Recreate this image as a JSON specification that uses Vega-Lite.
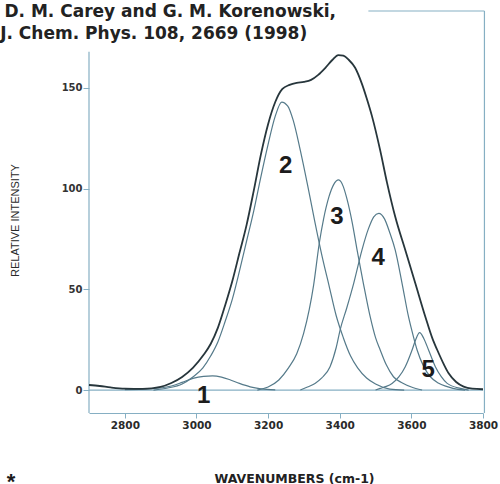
{
  "$schema": "https://vega.github.io/schema/vega-lite/v6.json",
  "width": 394,
  "height": 401,
  "autosize": {"type": "none"},
  "padding": {"left": 89, "top": 12, "right": 17, "bottom": 71},
  "background": "white",
  "config": {"view": {"stroke": null}},
  "datasets": {
    "frame": [
      {"wn": 2700, "wn2": 2700, "i": -11.4, "i2": 168},
      {"wn": 3804, "wn2": 3804, "i": -11.4, "i2": 188.2},
      {"wn": 3480, "wn2": 3804, "i": 188.2, "i2": 188.2},
      {"wn": 2700, "wn2": 3800, "i": 0, "i2": 0}
    ],
    "envelope": [
      {"wn": 2700, "i": 2.5}, {"wn": 2730, "i": 2}, {"wn": 2760, "i": 1.3}, {"wn": 2800, "i": 0.7},
      {"wn": 2850, "i": 0.6}, {"wn": 2900, "i": 1.6}, {"wn": 2930, "i": 3.5}, {"wn": 2960, "i": 6.5},
      {"wn": 2990, "i": 11}, {"wn": 3020, "i": 17.5}, {"wn": 3040, "i": 23}, {"wn": 3060, "i": 31},
      {"wn": 3080, "i": 42}, {"wn": 3100, "i": 54}, {"wn": 3120, "i": 68}, {"wn": 3140, "i": 82},
      {"wn": 3160, "i": 99}, {"wn": 3180, "i": 117}, {"wn": 3200, "i": 132}, {"wn": 3220, "i": 143},
      {"wn": 3240, "i": 149.5}, {"wn": 3260, "i": 151.5}, {"wn": 3280, "i": 152.5}, {"wn": 3300, "i": 153},
      {"wn": 3320, "i": 154}, {"wn": 3340, "i": 156.5}, {"wn": 3360, "i": 160}, {"wn": 3380, "i": 164},
      {"wn": 3396, "i": 166.3}, {"wn": 3410, "i": 166}, {"wn": 3425, "i": 164}, {"wn": 3443, "i": 160},
      {"wn": 3462, "i": 152}, {"wn": 3475, "i": 145}, {"wn": 3490, "i": 136}, {"wn": 3513, "i": 119},
      {"wn": 3532, "i": 103}, {"wn": 3555, "i": 86}, {"wn": 3583, "i": 69.5}, {"wn": 3611, "i": 53},
      {"wn": 3639, "i": 36.4}, {"wn": 3660, "i": 25}, {"wn": 3672, "i": 20}, {"wn": 3690, "i": 13},
      {"wn": 3704, "i": 8.3}, {"wn": 3725, "i": 4}, {"wn": 3746, "i": 1.7}, {"wn": 3770, "i": 0.7},
      {"wn": 3800, "i": 0.4}
    ],
    "components": [
      {"c": "1", "wn": 2800, "i": 0.2}, {"c": "1", "wn": 2850, "i": 0.4}, {"c": "1", "wn": 2900, "i": 1},
      {"c": "1", "wn": 2930, "i": 2}, {"c": "1", "wn": 2960, "i": 3.8}, {"c": "1", "wn": 2990, "i": 5.8},
      {"c": "1", "wn": 3020, "i": 6.8}, {"c": "1", "wn": 3045, "i": 7}, {"c": "1", "wn": 3070, "i": 6.4},
      {"c": "1", "wn": 3095, "i": 5}, {"c": "1", "wn": 3120, "i": 3.3}, {"c": "1", "wn": 3150, "i": 1.6},
      {"c": "1", "wn": 3180, "i": 0.6}, {"c": "1", "wn": 3220, "i": 0.1},

      {"c": "2", "wn": 2880, "i": 0}, {"c": "2", "wn": 2920, "i": 1}, {"c": "2", "wn": 2960, "i": 3},
      {"c": "2", "wn": 2990, "i": 6.5}, {"c": "2", "wn": 3018, "i": 11}, {"c": "2", "wn": 3040, "i": 17},
      {"c": "2", "wn": 3060, "i": 24}, {"c": "2", "wn": 3080, "i": 34}, {"c": "2", "wn": 3100, "i": 45},
      {"c": "2", "wn": 3120, "i": 59}, {"c": "2", "wn": 3140, "i": 74}, {"c": "2", "wn": 3160, "i": 89},
      {"c": "2", "wn": 3180, "i": 106}, {"c": "2", "wn": 3200, "i": 122}, {"c": "2", "wn": 3220, "i": 136},
      {"c": "2", "wn": 3238, "i": 143}, {"c": "2", "wn": 3255, "i": 141}, {"c": "2", "wn": 3270, "i": 134},
      {"c": "2", "wn": 3290, "i": 119}, {"c": "2", "wn": 3310, "i": 102}, {"c": "2", "wn": 3330, "i": 84},
      {"c": "2", "wn": 3350, "i": 67}, {"c": "2", "wn": 3370, "i": 52}, {"c": "2", "wn": 3390, "i": 37},
      {"c": "2", "wn": 3410, "i": 26}, {"c": "2", "wn": 3430, "i": 17}, {"c": "2", "wn": 3450, "i": 11},
      {"c": "2", "wn": 3475, "i": 6}, {"c": "2", "wn": 3500, "i": 3}, {"c": "2", "wn": 3540, "i": 0.5},
      {"c": "2", "wn": 3580, "i": 0},

      {"c": "3", "wn": 3170, "i": 0}, {"c": "3", "wn": 3200, "i": 1.5}, {"c": "3", "wn": 3230, "i": 5},
      {"c": "3", "wn": 3257, "i": 11}, {"c": "3", "wn": 3280, "i": 18}, {"c": "3", "wn": 3299, "i": 28},
      {"c": "3", "wn": 3315, "i": 40}, {"c": "3", "wn": 3327, "i": 52}, {"c": "3", "wn": 3343, "i": 73},
      {"c": "3", "wn": 3355, "i": 85}, {"c": "3", "wn": 3370, "i": 96}, {"c": "3", "wn": 3383, "i": 102},
      {"c": "3", "wn": 3397, "i": 104.3}, {"c": "3", "wn": 3410, "i": 101}, {"c": "3", "wn": 3420, "i": 95},
      {"c": "3", "wn": 3435, "i": 83}, {"c": "3", "wn": 3448, "i": 70}, {"c": "3", "wn": 3466, "i": 53},
      {"c": "3", "wn": 3485, "i": 36.4}, {"c": "3", "wn": 3500, "i": 26}, {"c": "3", "wn": 3513, "i": 19.9},
      {"c": "3", "wn": 3530, "i": 12.5}, {"c": "3", "wn": 3550, "i": 6.6}, {"c": "3", "wn": 3575, "i": 3.5},
      {"c": "3", "wn": 3600, "i": 1.5}, {"c": "3", "wn": 3630, "i": 0},

      {"c": "4", "wn": 3290, "i": 0}, {"c": "4", "wn": 3310, "i": 1.5}, {"c": "4", "wn": 3331, "i": 3.3},
      {"c": "4", "wn": 3350, "i": 6}, {"c": "4", "wn": 3373, "i": 11.6}, {"c": "4", "wn": 3390, "i": 21},
      {"c": "4", "wn": 3401, "i": 29.8}, {"c": "4", "wn": 3420, "i": 41}, {"c": "4", "wn": 3439, "i": 53},
      {"c": "4", "wn": 3462, "i": 69.5}, {"c": "4", "wn": 3480, "i": 80}, {"c": "4", "wn": 3495, "i": 86},
      {"c": "4", "wn": 3509, "i": 87.7}, {"c": "4", "wn": 3525, "i": 85}, {"c": "4", "wn": 3540, "i": 78},
      {"c": "4", "wn": 3555, "i": 69.5}, {"c": "4", "wn": 3574, "i": 53}, {"c": "4", "wn": 3592, "i": 36.4},
      {"c": "4", "wn": 3605, "i": 27}, {"c": "4", "wn": 3616, "i": 19.9}, {"c": "4", "wn": 3635, "i": 11.5},
      {"c": "4", "wn": 3653, "i": 6.6}, {"c": "4", "wn": 3675, "i": 3.5}, {"c": "4", "wn": 3700, "i": 1.7},
      {"c": "4", "wn": 3730, "i": 0.3}, {"c": "4", "wn": 3750, "i": 0},

      {"c": "5", "wn": 3500, "i": 0}, {"c": "5", "wn": 3513, "i": 0.8}, {"c": "5", "wn": 3530, "i": 1.8},
      {"c": "5", "wn": 3546, "i": 3.3}, {"c": "5", "wn": 3565, "i": 6.5}, {"c": "5", "wn": 3583, "i": 11.6},
      {"c": "5", "wn": 3602, "i": 19.9}, {"c": "5", "wn": 3612, "i": 25}, {"c": "5", "wn": 3623, "i": 28.5},
      {"c": "5", "wn": 3635, "i": 25.5}, {"c": "5", "wn": 3648, "i": 19.9}, {"c": "5", "wn": 3667, "i": 11.6},
      {"c": "5", "wn": 3684, "i": 6.5}, {"c": "5", "wn": 3700, "i": 3.3}, {"c": "5", "wn": 3737, "i": 0.8},
      {"c": "5", "wn": 3760, "i": 0}
    ],
    "labels": [
      {"wn": 3020, "i": -3.2, "label": "1"},
      {"wn": 3249, "i": 111, "label": "2"},
      {"wn": 3392, "i": 86, "label": "3"},
      {"wn": 3507, "i": 65.4, "label": "4"},
      {"wn": 3647, "i": 10, "label": "5"}
    ],
    "notes": [
      {"wn": 2464, "i": 187.7, "text": "D. M. Carey and G. M. Korenowski,"},
      {"wn": 2452, "i": 177, "text": "J. Chem.  Phys. 108, 2669 (1998)"}
    ],
    "star": [
      {"wn": 2482, "i": -45.5, "text": "*"}
    ]
  },
  "encoding": {
    "x": {
      "field": "wn", "type": "quantitative",
      "scale": {"domain": [2700, 3800], "nice": false, "zero": false},
      "axis": {
        "title": "WAVENUMBERS (cm-1)",
        "values": [2800, 3000, 3200, 3400, 3600, 3800],
        "format": "d",
        "grid": false,
        "domainColor": "#86afc3",
        "domainWidth": 1.2,
        "tickColor": "#86afc3",
        "tickSize": 5,
        "labelFlush": false,
        "labelOverlap": false,
        "labelFont": "DejaVu Sans",
        "labelFontWeight": "bold",
        "labelFontSize": 10.5,
        "labelColor": "#2a2a2a",
        "labelPadding": 2,
        "titleFont": "DejaVu Sans",
        "titleFontWeight": "bold",
        "titleFontSize": 12.5,
        "titleColor": "#222222",
        "titleX": 205,
        "titleY": 65,
        "titleBaseline": "middle"
      }
    },
    "y": {
      "field": "i", "type": "quantitative",
      "scale": {"domain": [-11.4, 187.7], "nice": false, "zero": false},
      "axis": {
        "title": "RELATIVE INTENSITY",
        "values": [0, 50, 100, 150],
        "grid": false,
        "domain": false,
        "tickColor": "#86afc3",
        "tickSize": 6,
        "labelFont": "DejaVu Sans",
        "labelFontWeight": "bold",
        "labelFontSize": 10,
        "labelColor": "#333333",
        "labelPadding": 1,
        "titleFont": "Liberation Sans",
        "titleFontWeight": "normal",
        "titleFontSize": 11,
        "titleColor": "#2a2a2a",
        "titleAngle": 270,
        "titleX": -74,
        "titleY": 208,
        "titleAlign": "center",
        "titleBaseline": "middle"
      }
    }
  },
  "layer": [
    {
      "data": {"name": "frame"},
      "mark": {"type": "rule", "color": "#86afc3", "strokeWidth": 1.2},
      "encoding": {"x2": {"field": "wn2"}, "y2": {"field": "i2"}}
    },
    {
      "data": {"name": "components"},
      "mark": {"type": "line", "color": "#557a8a", "strokeWidth": 1.2, "interpolate": "monotone"},
      "encoding": {"detail": {"field": "c", "type": "nominal"}}
    },
    {
      "data": {"name": "envelope"},
      "mark": {"type": "line", "color": "#27363c", "strokeWidth": 1.8, "interpolate": "monotone"}
    },
    {
      "data": {"name": "labels"},
      "mark": {"type": "text", "font": "Liberation Sans", "fontWeight": "bold", "fontSize": 24, "color": "#1c1c1c", "align": "center", "baseline": "middle"},
      "encoding": {"text": {"field": "label"}}
    },
    {
      "data": {"name": "notes"},
      "mark": {"type": "text", "font": "DejaVu Sans", "fontWeight": "bold", "fontSize": 17, "color": "#222222", "align": "left", "baseline": "middle"},
      "encoding": {"text": {"field": "text"}}
    },
    {
      "data": {"name": "star"},
      "mark": {"type": "text", "font": "Liberation Sans", "fontWeight": "bold", "fontSize": 22, "color": "#1c1c1c", "align": "center", "baseline": "middle"},
      "encoding": {"text": {"field": "text"}}
    }
  ]
}
